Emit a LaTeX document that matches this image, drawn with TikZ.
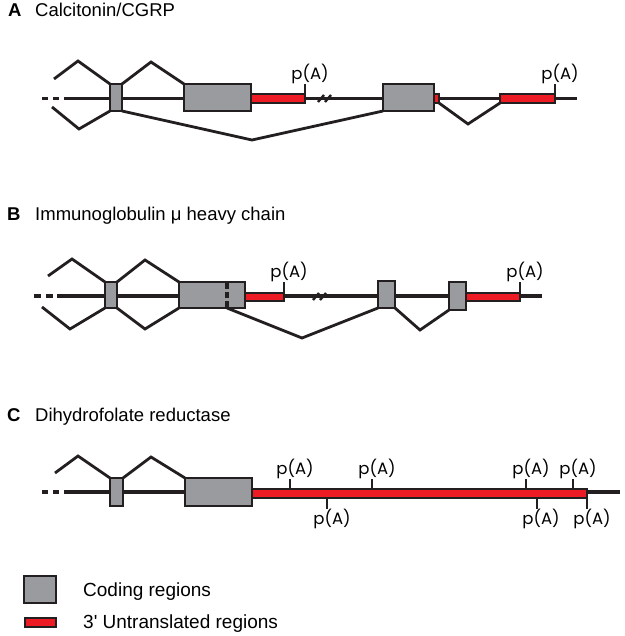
\documentclass[tikz,border=0pt]{standalone}
\usepackage{fontspec}
\setmainfont{Liberation Sans}
\newfontfamily\pafont{Poppins}
\definecolor{ink}{RGB}{35,31,32}
\definecolor{exgray}{RGB}{153,155,158}
\definecolor{utrred}{RGB}{237,28,36}
\begin{document}
\begin{tikzpicture}[x=1pt,y=-1pt,
  backbone/.style={line width=3.4pt, draw=ink},
  leaddash/.style={line width=3.4pt, draw=ink, dash pattern=on 6pt off 5pt},
  splice/.style={line width=2.8pt, draw=ink, line join=miter},
  exon/.style={draw=ink, fill=exgray, line width=2pt, inner sep=0pt, outer sep=0pt, rectangle},
  utr/.style={draw=ink, fill=utrred, line width=1.3pt, inner sep=0pt, outer sep=0pt, rectangle},
  polytick/.style={line width=2.8pt, draw=ink},
  brk/.style={line width=2.4pt, draw=ink},
  palabel/.style={font=\pafont\fontsize{16.5}{19}\selectfont, inner sep=0pt, anchor=base},
  titletext/.style={font=\fontsize{18.5}{22}\selectfont, anchor=base west, inner sep=0pt},
  legtext/.style={font=\fontsize{19}{22}\selectfont, anchor=base west, inner sep=0pt},
  titleletter/.style={font=\bfseries\fontsize{18.5}{22}\selectfont, anchor=base west, inner sep=0pt}]
\useasboundingbox (0,0) rectangle (624,636);

% ---------------- A ----------------
\node[titleletter] (tA) at (8,17) {A};
\node[titletext] (nA) at (35,17) {Calcitonin/CGRP};
\draw[leaddash] (42,98.5) -- (70,98.5);
\draw[backbone] (70,98.5) -- (577,98.5);
\node[exon, minimum width=12pt, minimum height=27pt] (a1) at (116,97.5) {};
\node[exon, minimum width=67pt, minimum height=27pt] (a2) at (217.5,97.5) {};
\node[utr, minimum width=54pt, minimum height=9pt] (ua1) at (278,98.5) {};
\node[exon, minimum width=51pt, minimum height=27pt] (a3) at (408.5,97.5) {};
\node[utr, minimum width=5pt, minimum height=9pt] (ua2) at (436.5,98.5) {};
\node[utr, minimum width=55pt, minimum height=9pt] (ua3) at (527.5,98.5) {};
\draw[polytick] (ua1.north east) -- ++(0,-10);
\draw[polytick] (ua3.north east) -- ++(0,-10);
\node[palabel] (pa1) at (310,80) {p(A)};
\node[palabel] (pa2) at (560,80) {p(A)};
\draw[brk] (318,102) -- (324,95);
\draw[brk] (325,102) -- (331,95);
\draw[splice] (54,79) -- (78,61) -- (a1.north west);
\draw[splice] (a1.north east) -- (151,62) -- (a2.north west);
\draw[splice] (52,107) -- (79,129) -- (a1.south west);
\draw[splice] (a1.south east) -- (252,140) -- (a3.south west);
\draw[splice] (ua2.south east) -- (468,124) -- (ua3.south west);

% ---------------- B ----------------
\node[titleletter] (tB) at (7,220) {B};
\node[titletext] (nB) at (35,220) {Immunoglobulin μ heavy chain};
\draw[leaddash, dash pattern=on 7pt off 4.5pt] (34,296) -- (63,296);
\draw[backbone] (63,296) -- (542,296);
\node[exon, minimum width=12pt, minimum height=26pt] (b1) at (111,295) {};
\node[exon, minimum width=66pt, minimum height=26pt] (b2) at (212,295) {};
\draw[line width=3.2pt, draw=ink, dash pattern=on 6pt off 3pt] (227,283) -- (227,308);
\node[utr, minimum width=39pt, minimum height=8pt] (ub1) at (264.5,297) {};
\node[exon, minimum width=17pt, minimum height=27pt] (b3) at (386.5,294.5) {};
\node[exon, minimum width=17pt, minimum height=28pt] (b4) at (457.5,296) {};
\node[utr, minimum width=54pt, minimum height=8pt] (ub2) at (493,297) {};
\draw[polytick] (ub1.north east) -- ++(0,-11);
\draw[polytick] (ub2.north east) -- ++(0,-11);
\node[palabel] (pb1) at (289,277) {p(A)};
\node[palabel] (pb2) at (525,277) {p(A)};
\draw[brk] (313,300) -- (319,293);
\draw[brk] (320,300) -- (326,293);
\draw[splice] (48,276) -- (72,259) -- (b1.north west);
\draw[splice] (b1.north east) -- (145,260) -- (b2.north west);
\draw[splice] (42,307) -- (70,329) -- (b1.south west);
\draw[splice] (b1.south east) -- (145,329) -- (b2.south west);
\draw[splice] (227,308) -- (302,338) -- (b3.south west);
\draw[splice] (b3.south east) -- (420,330) -- (b4.south west);

% ---------------- C ----------------
\node[titleletter] (tC) at (7,421) {C};
\node[titletext] (nC) at (35,421) {Dihydrofolate reductase};
\draw[leaddash] (42,492) -- (70,492);
\draw[backbone] (70,492) -- (620,492);
\node[exon, minimum width=13pt, minimum height=28pt] (c1) at (116.5,492) {};
\node[exon, minimum width=67pt, minimum height=28pt] (c2) at (218.5,492) {};
\node[utr, minimum width=335pt, minimum height=9pt] (uc) at (419.5,493.5) {};
\draw[polytick] (290,489) -- (290,479);
\draw[polytick] (372,489) -- (372,479);
\draw[polytick] (526,489) -- (526,479);
\draw[polytick] (573,489) -- (573,479);
\draw[polytick] (327,498) -- (327,509);
\draw[polytick] (537,498) -- (537,509);
\draw[polytick] (587,498) -- (587,509);
\node[palabel] (pc1) at (295,474) {p(A)};
\node[palabel] (pc2) at (377,474) {p(A)};
\node[palabel] (pc3) at (531,474) {p(A)};
\node[palabel] (pc4) at (578,474) {p(A)};
\node[palabel] (pc5) at (332,524) {p(A)};
\node[palabel] (pc6) at (541,524) {p(A)};
\node[palabel] (pc7) at (592,524) {p(A)};
\draw[splice] (55,473) -- (78,456) -- (c1.north west);
\draw[splice] (c1.north east) -- (151,457) -- (c2.north west);

% ---------------- Legend ----------------
\node[exon, minimum width=32pt, minimum height=27pt] (lg) at (40,589.5) {};
\node[legtext] (lgt) at (83,596) {Coding regions};
\node[utr, minimum width=31pt, minimum height=9pt] (lr) at (40.5,622.5) {};
\node[legtext] (lrt) at (83,628) {3\textquotesingle{} Untranslated regions};
\end{tikzpicture}
\end{document}
